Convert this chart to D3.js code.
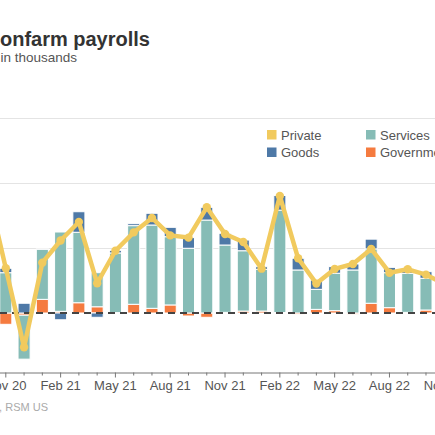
<!DOCTYPE html>
<html>
<head>
<meta charset="utf-8">
<script src="https://cdn.jsdelivr.net/npm/d3@7"></script>
<style>
  html, body { margin: 0; padding: 0; background: #fff; overflow: hidden; }
  svg { display: block; font-family: "Liberation Sans", Arial, sans-serif; }
</style>
</head>
<body>
<svg id="chart" width="435" height="435"></svg>
<script>
const months = ["Oct 20","Nov 20","Dec 20","Jan 21","Feb 21","Mar 21","Apr 21","May 21","Jun 21","Jul 21","Aug 21","Sep 21","Oct 21","Nov 21","Dec 21","Jan 22","Feb 22","Mar 22","Apr 22","May 22","Jun 22","Jul 22","Aug 22","Sep 22","Oct 22","Nov 22"];
const goods      = [110, 34, 75, 2, -52, 158, -33, 20, 15, 90, 72, 82, 98, 90, 82, 20, 113, 90, 72, 51, 46, 75, 41, 36, 51, 30];
const services   = [840, 310, -338, 385, 610, 542, 262, 459, 605, 641, 525, 498, 715, 518, 464, 321, 787, 331, 154, 288, 331, 418, 269, 300, 244, 194];
const government = [-270, -87, -17, 105, 13, 79, 48, 3, 67, 36, 62, -23, -33, 5, 15, 15, 4, -12, 28, 18, -10, 75, 41, 5, 23, 40];
const privateJobs = [950, 344, -263, 387, 558, 700, 229, 479, 620, 731, 597, 580, 813, 608, 546, 341, 900, 421, 226, 339, 377, 493, 310, 336, 295, 224];
const labelMonths = ["Nov 20","Feb 21","May 21","Aug 21","Nov 21","Feb 22","May 22","Aug 22","Nov 22"];
const gridValues = [500, 1000, 1500];

const colors = { goods: "#4e79a7", services: "#86bcb6", government: "#f57b3f", private: "#f1ca5e" };

const svg = d3.select("#chart");
const W = 435;

// Title & subtitle
svg.append("text").attr("x", -14.5).attr("y", 46)
  .attr("font-size", 20).attr("font-weight", "bold").attr("fill", "#333")
  .text("Nonfarm payrolls");
svg.append("text").attr("x", 0.5).attr("y", 62)
  .attr("font-size", 13.5).attr("fill", "#555")
  .text("in thousands");

// Scales
const x = d3.scaleBand().domain(months).range([-21.6, 453.4]).paddingInner(0.34).paddingOuter(0.17);
const y = d3.scaleLinear().domain([0, 1500]).range([313, 118]);
const yBottom = 372.5;

// Gridlines
svg.append("g").selectAll("line").data(gridValues).join("line")
  .attr("x1", 0).attr("x2", W)
  .attr("y1", d => Math.round(y(d)) + 0.5).attr("y2", d => Math.round(y(d)) + 0.5)
  .attr("stroke", "#e4e4e4").attr("stroke-width", 1);

// Legend
const legendItems = [
  { name: "Private", color: colors.private, x: 267, y: 130 },
  { name: "Services", color: colors.services, x: 366, y: 130 },
  { name: "Goods", color: colors.goods, x: 267, y: 147.5 },
  { name: "Government", color: colors.government, x: 366, y: 147.5 }
];
const lg = svg.append("g").selectAll("g").data(legendItems).join("g");
lg.append("rect").attr("x", d => d.x).attr("y", d => d.y).attr("width", 9.5).attr("height", 9.5).attr("fill", d => d.color);
lg.append("text").attr("x", d => d.x + 14).attr("y", d => d.y + 9.5)
  .attr("font-size", 13).attr("fill", "#555").text(d => d.name);

// Stacked bars
const table = months.map((m, i) => ({ month: m, government: government[i], services: services[i], goods: goods[i] }));
const keys = ["government", "services", "goods"];
const series = d3.stack().keys(keys).offset(d3.stackOffsetDiverging)(table);

svg.append("g").selectAll("g").data(series).join("g")
  .attr("fill", d => colors[d.key])
  .selectAll("rect").data(d => d).join("rect")
  .attr("x", d => x(d.data.month))
  .attr("width", x.bandwidth())
  .attr("y", d => y(Math.max(d[0], d[1])))
  .attr("height", d => Math.abs(y(d[0]) - y(d[1])))
  .attr("stroke", "#fff").attr("stroke-width", 1);

// Zero dashed line
svg.append("line").attr("x1", 0).attr("x2", W).attr("y1", y(0)).attr("y2", y(0))
  .attr("stroke", "#444").attr("stroke-width", 2).attr("stroke-dasharray", "7,5");

// Private line
const cx = m => x(m) + x.bandwidth() / 2;
const line = d3.line().x((d, i) => cx(months[i])).y(d => y(d));
svg.append("path").datum(privateJobs).attr("d", line)
  .attr("fill", "none").attr("stroke", colors.private).attr("stroke-width", 4.5)
  .attr("stroke-linejoin", "round").attr("stroke-linecap", "round");
svg.append("g").selectAll("circle").data(privateJobs).join("circle")
  .attr("cx", (d, i) => cx(months[i])).attr("cy", d => y(d)).attr("r", 4.2)
  .attr("fill", colors.private);

// X axis
const xAxis = d3.axisBottom(x)
  .tickValues(months)
  .tickSize(3).tickSizeOuter(0).tickPadding(5)
  .tickFormat(d => labelMonths.includes(d) ? d : "");
const ax = svg.append("g").attr("transform", `translate(0,${yBottom})`).call(xAxis);
ax.select(".domain").attr("stroke", "#777").attr("d", `M-30,0.5H${W + 30}`);
ax.selectAll(".tick line").attr("stroke", "#777")
  .attr("y2", d => labelMonths.includes(d) ? 5 : 3);
ax.selectAll(".tick text").attr("font-size", 13).attr("fill", "#555")
  .attr("font-family", "Liberation Sans, Arial, sans-serif");

// Source
svg.append("text").attr("x", 48).attr("y", 410.5).attr("text-anchor", "end")
  .attr("font-size", 11).attr("fill", "#aaa")
  .text("Source: Bureau of Labor Statistics, RSM US");
</script>
</body>
</html>
